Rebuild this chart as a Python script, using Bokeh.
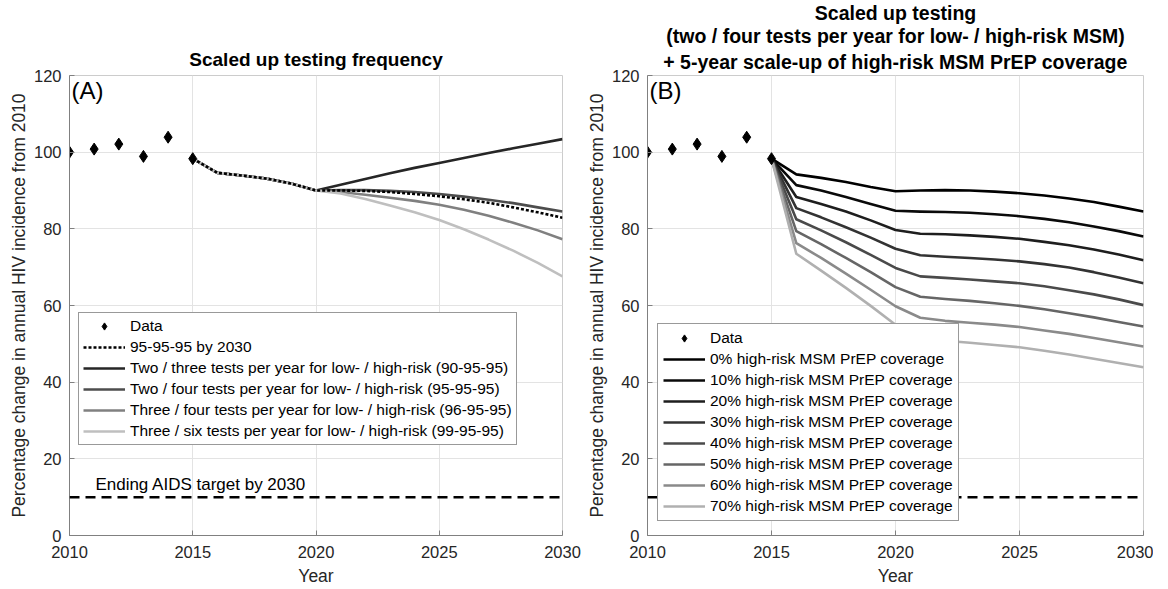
from bokeh.plotting import figure
from bokeh.models import Legend, LegendItem, Label, Span, Title, FixedTicker, Range1d
from bokeh.layouts import row
from bokeh.embed import file_html
from bokeh.resources import INLINE

# ---------------- data ----------------
data_years = [2010, 2011, 2012, 2013, 2014, 2015]
data_values = [100.0, 100.8, 102.1, 98.9, 103.9, 98.3]

proj_years = [2015, 2016, 2017, 2018, 2019, 2020, 2021, 2022, 2023, 2024,
              2025, 2026, 2027, 2028, 2029, 2030]

# Panel A
a_959595 = [98.3, 94.6, 93.9, 93.1, 91.8, 90.0, 90.0, 89.9, 89.6, 89.1, 88.5, 87.7, 86.8, 85.6, 84.3, 82.9]
a_two_three = [98.3, 94.6, 93.9, 93.1, 91.8, 90.0, 91.5, 93.0, 94.5, 95.9, 97.2, 98.5, 99.8, 101.0, 102.2, 103.4]
a_two_four = [98.3, 94.6, 93.9, 93.1, 91.8, 90.0, 90.1, 90.1, 89.9, 89.6, 89.1, 88.4, 87.6, 86.7, 85.6, 84.5]
a_three_four = [98.3, 94.6, 93.9, 93.1, 91.8, 90.0, 89.6, 88.9, 88.1, 87.3, 86.3, 85.0, 83.4, 81.6, 79.6, 77.3]
a_three_six = [98.3, 94.6, 93.9, 93.1, 91.8, 90.0, 89.2, 87.8, 86.1, 84.3, 82.3, 79.9, 77.2, 74.3, 71.1, 67.6]

a_labels = ["95-95-95 by 2030",
            "Two / three tests per year for low- / high-risk (90-95-95)",
            "Two / four tests per year for low- / high-risk (95-95-95)",
            "Three / four tests per year for low- / high-risk (96-95-95)",
            "Three / six tests per year for low- / high-risk (99-95-95)"]
a_colors = ["#262626", "#4d4d4d", "#808080", "#bfbfbf"]

# Panel B
b_p0 = [98.3, 94.2, 93.3, 92.2, 90.9, 89.8, 90.0, 90.1, 90.0, 89.7, 89.3, 88.7, 87.9, 87.0, 85.8, 84.5]
b_p10 = [98.3, 91.4, 90.0, 88.3, 86.5, 84.7, 84.5, 84.4, 84.2, 83.8, 83.3, 82.6, 81.7, 80.6, 79.4, 78.0]
b_p20 = [98.3, 88.3, 86.5, 84.5, 82.2, 79.7, 78.7, 78.6, 78.3, 77.9, 77.4, 76.6, 75.7, 74.6, 73.3, 71.8]
b_p30 = [98.3, 85.4, 83.0, 80.4, 77.7, 74.8, 73.1, 72.7, 72.4, 72.0, 71.5, 70.8, 69.9, 68.7, 67.3, 65.8]
b_p40 = [98.3, 82.5, 79.6, 76.5, 73.2, 69.8, 67.6, 67.2, 66.8, 66.3, 65.8, 65.0, 64.0, 62.9, 61.6, 60.1]
b_p50 = [98.3, 79.4, 76.0, 72.4, 68.7, 64.8, 62.3, 61.7, 61.2, 60.6, 59.9, 59.0, 58.0, 56.9, 55.7, 54.5]
b_p60 = [98.3, 76.3, 72.4, 68.3, 64.1, 59.8, 56.8, 56.0, 55.5, 55.0, 54.4, 53.5, 52.6, 51.5, 50.4, 49.3]
b_p70 = [98.3, 73.5, 69.1, 64.6, 59.9, 55.0, 51.6, 50.8, 50.3, 49.7, 49.1, 48.2, 47.2, 46.1, 45.0, 43.9]
b_series = [b_p0, b_p10, b_p20, b_p30, b_p40, b_p50, b_p60, b_p70]
b_labels = ["0% high-risk MSM PrEP coverage", "10% high-risk MSM PrEP coverage",
            "20% high-risk MSM PrEP coverage", "30% high-risk MSM PrEP coverage",
            "40% high-risk MSM PrEP coverage", "50% high-risk MSM PrEP coverage",
            "60% high-risk MSM PrEP coverage", "70% high-risk MSM PrEP coverage"]
b_colors = ["#000000", "#0a0a0a", "#1e1e1e", "#333333", "#4a4a4a", "#666666", "#8a8a8a", "#b0b0b0"]

target_2030 = 10
x_ticks = [2010, 2015, 2020, 2025, 2030]
y_ticks = [0, 20, 40, 60, 80, 100, 120]

title_a = ["Scaled up testing frequency"]
title_b = ["Scaled up testing",
           "(two / four tests per year for low- / high-risk MSM)",
           "+ 5-year scale-up of high-risk MSM PrEP coverage"]

FONT = "Liberation Sans"
TXT = "#262626"
FIG_H = 588


def make_fig(width, bl, br, title_lines, title_size, title_gaps, panel_tag):
    p = figure(width=width, height=FIG_H, x_range=Range1d(2010, 2030), y_range=Range1d(0, 120),
               output_backend="svg", toolbar_location=None, title=None,
               min_border_left=bl, min_border_right=br, min_border_top=10, min_border_bottom=10,
               background_fill_color="white", border_fill_color="white")
    # add the line nearest the plot first; later titles stack above it
    for line, gap in zip(reversed(title_lines), title_gaps):
        p.add_layout(Title(text=line, align="center", text_font=FONT, text_font_size=title_size,
                           text_font_style="bold", text_color="#000000", standoff=gap), "above")
    p.outline_line_color = "#cccccc"
    p.xaxis.ticker = FixedTicker(ticks=x_ticks)
    p.yaxis.ticker = FixedTicker(ticks=y_ticks)
    p.xgrid.ticker = FixedTicker(ticks=x_ticks)
    p.ygrid.ticker = FixedTicker(ticks=y_ticks)
    p.grid.grid_line_color = "#e3e3e3"
    for ax in (p.xaxis[0], p.yaxis[0]):
        ax.axis_line_color = "#808080"
        ax.major_tick_line_color = "#808080"
        ax.major_tick_in = 5
        ax.major_tick_out = 0
        ax.minor_tick_line_color = None
        ax.major_label_text_font = FONT
        ax.major_label_text_font_size = "16.5px"
        ax.major_label_text_color = TXT
        ax.major_label_text_line_height = 1.0
        ax.axis_label_text_font = FONT
        ax.axis_label_text_font_size = "17.5px"
        ax.axis_label_text_font_style = "normal"
        ax.axis_label_text_color = TXT
        ax.axis_label_text_line_height = 1.0
    p.xaxis.axis_label = "Year"
    p.yaxis.axis_label = "Percentage change in annual HIV incidence from 2010"
    p.xaxis.major_label_standoff = 10
    p.xaxis.axis_label_standoff = 5
    p.yaxis.major_label_standoff = 8
    p.yaxis.axis_label_standoff = 2
    p.add_layout(Label(x=2010.08, y=119.6, text=panel_tag, text_font=FONT, text_font_size="24px",
                       text_color="#000000", text_baseline="top"))
    p.add_layout(Span(location=target_2030, dimension="width", line_color="#000000",
                      line_width=2.5, line_dash="10 6"))
    return p


# ---------------- Panel A ----------------
pa = make_fig(583, 69, 21, title_a, "19px", [12], "(A)")
pa.add_layout(Label(x=2011.05, y=10.7, text="Ending AIDS target by 2030", text_font=FONT,
                    text_font_size="17px", text_color="#000000", text_baseline="bottom"))
ra = []
for ys, col in zip([a_two_three, a_two_four, a_three_four, a_three_six], a_colors):
    ra.append(pa.line(proj_years, ys, line_color=col, line_width=2.6, line_join="round"))
r_dot = pa.line(proj_years, a_959595, line_color="#000000", line_width=2.6, line_dash="3 2")
r_da = pa.scatter(data_years, data_values, marker="diamond", size=12, fill_color="#000000",
                  line_color="#000000")
items_a = [LegendItem(label="Data", renderers=[r_da]), LegendItem(label=a_labels[0], renderers=[r_dot])]
for lab, r in zip(a_labels[1:], ra):
    items_a.append(LegendItem(label=lab, renderers=[r]))
leg_a = Legend(items=items_a, location=(9, 90), label_text_font=FONT, label_text_font_size="15.5px",
               label_text_color="#000000", glyph_width=42, glyph_height=18, label_height=18,
               spacing=3, padding=4, margin=0, label_standoff=5, border_line_color="#333333",
               border_line_width=1, background_fill_color="white", background_fill_alpha=1)
pa.add_layout(leg_a)

# ---------------- Panel B ----------------
pb = make_fig(570, 64, 10, title_b, "19.5px", [5, -1, -1], "(B)")
rb = []
for ys, col in zip(b_series, b_colors):
    rb.append(pb.line(proj_years, ys, line_color=col, line_width=2.6, line_join="round"))
r_db = pb.scatter(data_years, data_values, marker="diamond", size=12, fill_color="#000000",
                  line_color="#000000")
items_b = [LegendItem(label="Data", renderers=[r_db])]
for lab, r in zip(b_labels, rb):
    items_b.append(LegendItem(label=lab, renderers=[r]))
leg_b = Legend(items=items_b, location=(10, 14), label_text_font=FONT, label_text_font_size="15.5px",
               label_text_color="#000000", glyph_width=42, glyph_height=18, label_height=18,
               spacing=3, padding=5, margin=0, label_standoff=5, border_line_color="#333333",
               border_line_width=1, background_fill_color="white", background_fill_alpha=1)
pb.add_layout(leg_b)

layout = row(pa, pb)
open("out.html", "w").write(file_html(layout, INLINE))
